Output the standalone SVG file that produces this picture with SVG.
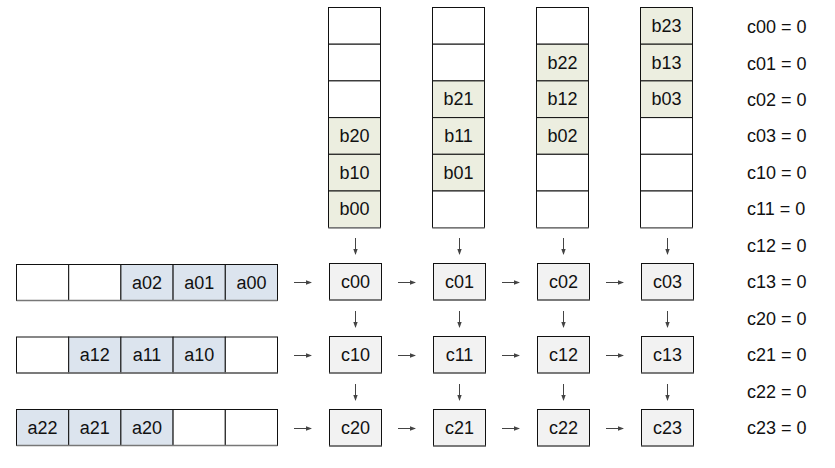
<svg xmlns="http://www.w3.org/2000/svg" width="835" height="468" viewBox="0 0 835 468">
<style>
text{font-family:"Liberation Sans",Arial,sans-serif;font-size:18px;fill:#111;}
.t{text-anchor:middle;}
.e{fill:#fff;stroke:#111;stroke-width:1;}
.b{fill:#eceee0;stroke:#111;stroke-width:1;}
.a{fill:#dce4ee;stroke:#111;stroke-width:1;}
.c{fill:#f2f2f2;stroke:#111;stroke-width:1;}
.sh{stroke:#777;stroke-width:1.5;}
.ar{stroke:#444;stroke-width:1;fill:none;marker-end:url(#h);}
</style>
<defs>
<marker id="h" viewBox="0 0 6 6" refX="5" refY="3" markerWidth="6" markerHeight="6" orient="auto" markerUnits="userSpaceOnUse">
<path d="M0,0.8 L6,3 L0,5.2 z" fill="#444"/>
</marker>
</defs>
<rect width="835" height="468" fill="#fff"/>

<!-- B columns -->
<g id="bcol0">
<rect class="e" x="328.5" y="7.5" width="52" height="36.7"/>
<rect class="e" x="328.5" y="44.2" width="52" height="36.7"/>
<rect class="e" x="328.5" y="80.9" width="52" height="36.7"/>
<rect class="b" x="328.5" y="117.6" width="52" height="36.7"/><text class="t" x="354.5" y="142">b20</text>
<rect class="b" x="328.5" y="154.3" width="52" height="36.7"/><text class="t" x="354.5" y="178.7">b10</text>
<rect class="b" x="328.5" y="191" width="52" height="36.7"/><text class="t" x="354.5" y="215.4">b00</text>
<line class="sh" x1="328.5" y1="227.7" x2="380.5" y2="227.7"/>
</g>
<g id="bcol1">
<rect class="e" x="432.5" y="7.5" width="52" height="36.7"/>
<rect class="e" x="432.5" y="44.2" width="52" height="36.7"/>
<rect class="b" x="432.5" y="80.9" width="52" height="36.7"/><text class="t" x="458.5" y="105.3">b21</text>
<rect class="b" x="432.5" y="117.6" width="52" height="36.7"/><text class="t" x="458.5" y="142">b11</text>
<rect class="b" x="432.5" y="154.3" width="52" height="36.7"/><text class="t" x="458.5" y="178.7">b01</text>
<rect class="e" x="432.5" y="191" width="52" height="36.7"/>
<line class="sh" x1="432.5" y1="227.7" x2="484.5" y2="227.7"/>
</g>
<g id="bcol2">
<rect class="e" x="536.5" y="7.5" width="52" height="36.7"/>
<rect class="b" x="536.5" y="44.2" width="52" height="36.7"/><text class="t" x="562.5" y="68.6">b22</text>
<rect class="b" x="536.5" y="80.9" width="52" height="36.7"/><text class="t" x="562.5" y="105.3">b12</text>
<rect class="b" x="536.5" y="117.6" width="52" height="36.7"/><text class="t" x="562.5" y="142">b02</text>
<rect class="e" x="536.5" y="154.3" width="52" height="36.7"/>
<rect class="e" x="536.5" y="191" width="52" height="36.7"/>
<line class="sh" x1="536.5" y1="227.7" x2="588.5" y2="227.7"/>
</g>
<g id="bcol3">
<rect class="b" x="640.5" y="7.5" width="52" height="36.7"/><text class="t" x="666.5" y="31.9">b23</text>
<rect class="b" x="640.5" y="44.2" width="52" height="36.7"/><text class="t" x="666.5" y="68.6">b13</text>
<rect class="b" x="640.5" y="80.9" width="52" height="36.7"/><text class="t" x="666.5" y="105.3">b03</text>
<rect class="e" x="640.5" y="117.6" width="52" height="36.7"/>
<rect class="e" x="640.5" y="154.3" width="52" height="36.7"/>
<rect class="e" x="640.5" y="191" width="52" height="36.7"/>
<line class="sh" x1="640.5" y1="227.7" x2="692.5" y2="227.7"/>
</g>

<!-- A rows -->
<g id="arow0">
<rect class="e" x="16.5" y="264.5" width="52.2" height="36"/>
<rect class="e" x="68.7" y="264.5" width="52.2" height="36"/>
<rect class="a" x="120.9" y="264.5" width="52.2" height="36"/><text class="t" x="147" y="288.5">a02</text>
<rect class="a" x="173.1" y="264.5" width="52.2" height="36"/><text class="t" x="199.2" y="288.5">a01</text>
<rect class="a" x="225.3" y="264.5" width="52.2" height="36"/><text class="t" x="251.4" y="288.5">a00</text>
<line class="sh" x1="16.5" y1="300.5" x2="277.5" y2="300.5"/>
</g>
<g id="arow1">
<rect class="e" x="16.5" y="337" width="52.2" height="36"/>
<rect class="a" x="68.7" y="337" width="52.2" height="36"/><text class="t" x="94.8" y="361">a12</text>
<rect class="a" x="120.9" y="337" width="52.2" height="36"/><text class="t" x="147" y="361">a11</text>
<rect class="a" x="173.1" y="337" width="52.2" height="36"/><text class="t" x="199.2" y="361">a10</text>
<rect class="e" x="225.3" y="337" width="52.2" height="36"/>
<line class="sh" x1="16.5" y1="373" x2="277.5" y2="373"/>
</g>
<g id="arow2">
<rect class="a" x="16.5" y="409.5" width="52.2" height="36"/><text class="t" x="42.6" y="433.5">a22</text>
<rect class="a" x="68.7" y="409.5" width="52.2" height="36"/><text class="t" x="94.8" y="433.5">a21</text>
<rect class="a" x="120.9" y="409.5" width="52.2" height="36"/><text class="t" x="147" y="433.5">a20</text>
<rect class="e" x="173.1" y="409.5" width="52.2" height="36"/>
<rect class="e" x="225.3" y="409.5" width="52.2" height="36"/>
<line class="sh" x1="16.5" y1="445.5" x2="277.5" y2="445.5"/>
</g>

<!-- C cells -->
<g id="c00"><rect class="c" x="329.5" y="263.5" width="52" height="36.5"/><line class="sh" x1="329.5" y1="300" x2="381.5" y2="300"/><text class="t" x="355.5" y="288">c00</text></g>
<g id="c01"><rect class="c" x="433.5" y="263.5" width="52" height="36.5"/><line class="sh" x1="433.5" y1="300" x2="485.5" y2="300"/><text class="t" x="459.5" y="288">c01</text></g>
<g id="c02"><rect class="c" x="537.5" y="263.5" width="52" height="36.5"/><line class="sh" x1="537.5" y1="300" x2="589.5" y2="300"/><text class="t" x="563.5" y="288">c02</text></g>
<g id="c03"><rect class="c" x="641.5" y="263.5" width="52" height="36.5"/><line class="sh" x1="641.5" y1="300" x2="693.5" y2="300"/><text class="t" x="667.5" y="288">c03</text></g>
<g id="c10"><rect class="c" x="329.5" y="336.5" width="52" height="36.5"/><line class="sh" x1="329.5" y1="373" x2="381.5" y2="373"/><text class="t" x="355.5" y="361">c10</text></g>
<g id="c11"><rect class="c" x="433.5" y="336.5" width="52" height="36.5"/><line class="sh" x1="433.5" y1="373" x2="485.5" y2="373"/><text class="t" x="459.5" y="361">c11</text></g>
<g id="c12"><rect class="c" x="537.5" y="336.5" width="52" height="36.5"/><line class="sh" x1="537.5" y1="373" x2="589.5" y2="373"/><text class="t" x="563.5" y="361">c12</text></g>
<g id="c13"><rect class="c" x="641.5" y="336.5" width="52" height="36.5"/><line class="sh" x1="641.5" y1="373" x2="693.5" y2="373"/><text class="t" x="667.5" y="361">c13</text></g>
<g id="c20"><rect class="c" x="329.5" y="409.5" width="52" height="36.5"/><line class="sh" x1="329.5" y1="446" x2="381.5" y2="446"/><text class="t" x="355.5" y="434">c20</text></g>
<g id="c21"><rect class="c" x="433.5" y="409.5" width="52" height="36.5"/><line class="sh" x1="433.5" y1="446" x2="485.5" y2="446"/><text class="t" x="459.5" y="434">c21</text></g>
<g id="c22"><rect class="c" x="537.5" y="409.5" width="52" height="36.5"/><line class="sh" x1="537.5" y1="446" x2="589.5" y2="446"/><text class="t" x="563.5" y="434">c22</text></g>
<g id="c23"><rect class="c" x="641.5" y="409.5" width="52" height="36.5"/><line class="sh" x1="641.5" y1="446" x2="693.5" y2="446"/><text class="t" x="667.5" y="434">c23</text></g>

<!-- connectors -->
<g id="connectors">
<line class="ar" x1="355.5" y1="238" x2="355.5" y2="254"/>
<line class="ar" x1="459.5" y1="238" x2="459.5" y2="254"/>
<line class="ar" x1="563.5" y1="238" x2="563.5" y2="254"/>
<line class="ar" x1="667.5" y1="238" x2="667.5" y2="254"/>
<line class="ar" x1="355.5" y1="311" x2="355.5" y2="327"/>
<line class="ar" x1="459.5" y1="311" x2="459.5" y2="327"/>
<line class="ar" x1="563.5" y1="311" x2="563.5" y2="327"/>
<line class="ar" x1="667.5" y1="311" x2="667.5" y2="327"/>
<line class="ar" x1="355.5" y1="384" x2="355.5" y2="400"/>
<line class="ar" x1="459.5" y1="384" x2="459.5" y2="400"/>
<line class="ar" x1="563.5" y1="384" x2="563.5" y2="400"/>
<line class="ar" x1="667.5" y1="384" x2="667.5" y2="400"/>
<line class="ar" x1="294" y1="282.5" x2="311" y2="282.5"/>
<line class="ar" x1="398" y1="282.5" x2="415" y2="282.5"/>
<line class="ar" x1="502" y1="282.5" x2="519" y2="282.5"/>
<line class="ar" x1="606" y1="282.5" x2="623" y2="282.5"/>
<line class="ar" x1="294" y1="355.5" x2="311" y2="355.5"/>
<line class="ar" x1="398" y1="355.5" x2="415" y2="355.5"/>
<line class="ar" x1="502" y1="355.5" x2="519" y2="355.5"/>
<line class="ar" x1="606" y1="355.5" x2="623" y2="355.5"/>
<line class="ar" x1="294" y1="428.5" x2="311" y2="428.5"/>
<line class="ar" x1="398" y1="428.5" x2="415" y2="428.5"/>
<line class="ar" x1="502" y1="428.5" x2="519" y2="428.5"/>
<line class="ar" x1="606" y1="428.5" x2="623" y2="428.5"/>
</g>

<!-- labels -->
<g id="labels">
<text x="747" y="33">c00 = 0</text>
<text x="747" y="69.5">c01 = 0</text>
<text x="747" y="106">c02 = 0</text>
<text x="747" y="142.3">c03 = 0</text>
<text x="747" y="178.8">c10 = 0</text>
<text x="747" y="215.3">c11 = 0</text>
<text x="747" y="251.7">c12 = 0</text>
<text x="747" y="288.2">c13 = 0</text>
<text x="747" y="324.6">c20 = 0</text>
<text x="747" y="361">c21 = 0</text>
<text x="747" y="397.5">c22 = 0</text>
<text x="747" y="434">c23 = 0</text>
</g>
</svg>
